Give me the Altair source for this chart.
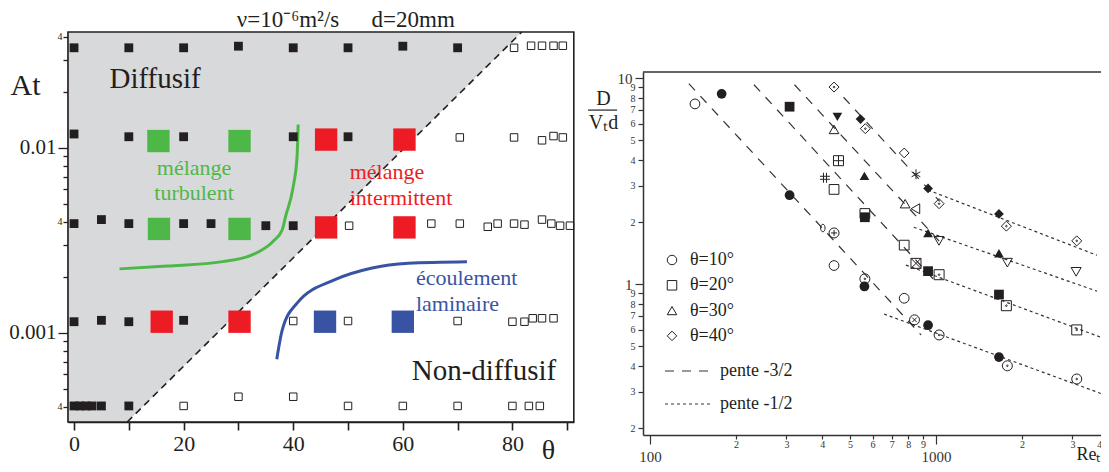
import altair as alt
import pandas as pd

SERIF = "Liberation Serif"
INK = "#231f20"

# ---------------- left panel : regime diagram ----------------
theta_domain = [-1.1, 91.2]
at_domain = [0.00033, 0.04236]
theta_ticks = [0, 10, 20, 30, 40, 50, 60, 70, 80, 90]
at_ticks = [0.0004, 0.0005, 0.0006, 0.0007, 0.0008, 0.0009,
            0.001, 0.002, 0.003, 0.004, 0.005, 0.006, 0.007, 0.008, 0.009,
            0.01, 0.02, 0.03, 0.04]

# diffusive runs (small black squares)
diff_theta = [0, 10, 20, 30, 40, 50, 60, 70,
              0, 10, 20, 40, 50,
              0, 5, 10, 20, 25, 35, 40,
              0, 5, 10, 20,
              0, 1.1, 2.2, 3.3, 5.0, 10]
diff_at = [0.0348, 0.0348, 0.0348, 0.0355, 0.0348, 0.0348, 0.0355, 0.0348,
           0.0119, 0.0115, 0.0115, 0.0115, 0.0115,
           0.0039, 0.0041, 0.0039, 0.0039, 0.0039, 0.0038, 0.0038,
           0.00115, 0.00117, 0.00115, 0.00117,
           0.000403, 0.000403, 0.000403, 0.000403, 0.000403, 0.000403]

# non-diffusive runs (small open squares)
nd_theta = [80.3, 83.4, 85.4, 87.5, 89.2,
            70.4, 80.3, 85.4, 87.5, 89.2,
            50.2, 65.2, 70.4, 75.5, 77.3, 80.3, 82.2, 85.4, 87.1, 88.7, 90.5,
            40, 50, 70, 80, 82.2, 83.7, 85.4, 87.5,
            20, 30, 40, 50, 60, 70, 80, 83, 85]
nd_at = [0.0348, 0.0357, 0.0357, 0.0357, 0.0357,
         0.0114, 0.0114, 0.0110, 0.0116, 0.0114,
         0.0038, 0.0039, 0.0039, 0.00375, 0.0039, 0.0039, 0.00385, 0.0041, 0.0039, 0.0038, 0.0038,
         0.00116, 0.00116, 0.00116, 0.00115, 0.00115, 0.0012, 0.0012, 0.0012,
         0.000403, 0.000452, 0.000452, 0.000403, 0.000403, 0.000403, 0.000403, 0.000403, 0.000403]

# highlighted runs (large coloured squares)
green_theta = [15.4, 30.2, 15.5, 30.2]
green_at = [0.0109, 0.0109, 0.00365, 0.00365]
red_theta = [46, 60.3, 46, 60.3, 16, 30.2]
red_at = [0.0111, 0.0111, 0.00372, 0.00372, 0.00115, 0.00115]
blue_theta = [45.8, 60]
blue_at = [0.00115, 0.00115]

# diffusive region and its boundary
region_theta = [-1.1, 9.7, 81.7]
region_low = [0.00033, 0.00033, 0.04236]
region_high = [0.04236, 0.04236, 0.04236]
bound_theta = [9.7, 81.7]
bound_at = [0.00033, 0.04236]

# regime curves
gcurve_theta = [8.3, 17, 27.1, 32.5, 36.3, 38, 38.6, 40, 40.7, 40.9]
gcurve_at = [0.00222, 0.0023, 0.00243, 0.00264, 0.00312, 0.00361, 0.00426, 0.00618, 0.00897, 0.0134]
bcurve_theta = [37, 38, 40.7, 47.5, 54.2, 61, 71.7]
bcurve_at = [0.000721, 0.001038, 0.001449, 0.001936, 0.002239, 0.002382, 0.002427]

# annotations (placed in data coordinates)
big_text = ["Diffusif", "Non-diffusif"]
big_theta = [14.8, 74.8]
big_at = [0.0236, 0.000623]
green_text = ["mélange", "turbulent"]
green_text_theta = [21.9, 21.9]
green_text_at = [0.0078, 0.00571]
red_text = ["mélange", "intermittent"]
red_text_theta = [50.3, 50.3]
red_text_at = [0.00742, 0.00537]
blue_text = ["écoulement", "laminaire"]
blue_text_theta = [62.4, 62.4]
blue_text_at = [0.00198, 0.001436]
head_text = ["ν=10⁻⁶m²/s", "d=20mm"]
head_theta = [39.05, 61.9]
head_at = [0.0489, 0.0489]

# ---------------- right panel : D/(Vt d) vs Re_t ----------------
re_domain = [94.5, 4026]
d_domain = [0.185, 10.7]
re_ticks = [100, 200, 300, 400, 500, 600, 700, 800, 900, 1000, 2000, 3000, 4000]
d_ticks = [0.2, 0.3, 0.4, 0.5, 0.6, 0.7, 0.8, 0.9, 1, 2, 3, 4, 5, 6, 7, 8, 9, 10]

open_re = [143.6, 440, 774, 440, 774, 564, 440, 780, 774]
open_d = [7.49, 1.23, 0.853, 2.88, 1.545, 2.2, 5.63, 2.455, 4.33]
open_theta = ["θ=10°", "θ=10°", "θ=10°", "θ=20°", "θ=20°", "θ=20°", "θ=30°", "θ=30°", "θ=40°"]

fill_re = [178, 307.6, 562, 938, 1660, 307.6, 564, 938, 1660, 562, 938, 1660, 452, 544.5, 938, 1660]
fill_d = [8.38, 2.70, 0.973, 0.631, 0.442, 7.26, 2.11, 1.155, 0.889, 3.35, 1.77, 1.41, 6.48, 6.32, 2.91, 2.19]
fill_kind = ["circle"] * 5 + ["square"] * 4 + ["triangle-up"] * 3 + ["triangle-down"] + ["diamond"] * 3

spec_re = [564, 1025, 1776, 3105, 440, 841, 402,
           1025, 1762, 3105, 456, 851, 409,
           847, 1024, 1776, 3090,
           440, 566, 1025, 1762, 3105, 851]
spec_d = [1.06, 0.566, 0.401, 0.346, 1.77, 0.67, 1.87,
          1.11, 0.785, 0.599, 3.97, 1.26, 3.28,
          2.32, 1.62, 1.27, 1.146,
          9.04, 5.68, 2.455, 1.91, 1.62, 3.41]
spec_kind = ["circle-dot"] * 4 + ["circle-plus", "circle-x", "small-ellipse"] + \
            ["square-dot"] * 3 + ["square-plus", "square-x", "hash"] + \
            ["triangle-left"] + ["triangle-down"] * 3 + \
            ["diamond-dot"] * 5 + ["asterisk"]

steep_id = ["s1", "s1", "s2", "s2", "s3", "s3", "s4", "s4"]
steep_re = [136.7, 887, 231, 1016, 320, 1060, 475, 1030]
steep_d = [9.39, 0.566, 9.28, 1.0, 9.28, 1.54, 8.07, 2.52]
flat_id = ["f1", "f1", "f2", "f2", "f3", "f3", "f4", "f4"]
flat_re = [658, 3855, 785, 3754, 836, 3652, 938, 3652]
flat_d = [0.715, 0.291, 1.236, 0.553, 1.887, 0.924, 2.86, 1.38]
slope_labels = ["pente -3/2", "pente -1/2"]

frac_re = [60.7, 76.7]
frac_d = [6.99]

# ---------------- symbol paths (style) ----------------
CIRC = "M1,0A1,1,0,1,1,-1,0A1,1,0,1,1,1,0Z"
DOT = "M0.16,0A0.16,0.16,0,1,1,-0.16,0A0.16,0.16,0,1,1,0.16,0Z"
SQ = "M-1,-1H1V1H-1Z"
DIA = "M0,-1L1,0L0,1L-1,0Z"
PATHS = {
    "circle-dot": CIRC + DOT,
    "circle-plus": CIRC + "M0,-0.6V0.6M-0.6,0H0.6",
    "circle-x": CIRC + "M-0.45,-0.45L0.45,0.45M0.45,-0.45L-0.45,0.45",
    "small-ellipse": "M0.45,0A0.45,0.75,0,1,1,-0.45,0A0.45,0.75,0,1,1,0.45,0Z",
    "square-dot": SQ + DOT,
    "square-plus": SQ + "M0,-1V1M-1,0H1",
    "square-x": SQ + "M-1,-1L1,1M1,-1L-1,1",
    "hash": "M-0.3,-1V1M0.3,-1V1M-1,-0.3H1M-1,0.3H1",
    "triangle-left": "triangle-left",
    "triangle-down": "triangle-down",
    "diamond-dot": DIA + DOT,
    "asterisk": "M0,-1V1M-0.87,-0.5L0.87,0.5M-0.87,0.5L0.87,-0.5",
}

# ---------------- geometry ----------------
W, H = 1093, 456
LX = alt.Scale(type="linear", domain=theta_domain, range=[60, 565.8], nice=False, zero=False)
LY = alt.Scale(type="log", domain=at_domain, range=[414, 24], nice=False)
RX = alt.Scale(type="log", domain=re_domain, range=[635, 1101], nice=False)
RY = alt.Scale(type="log", domain=d_domain, range=[427, 64], nice=False)

MAJ = "abs(log(datum.value)/LN10 - round(log(datum.value)/LN10)) < 0.001"
MANT = "datum.value / pow(10, floor(log(datum.value)/LN10 + 0.001))"


def cond(major, minor):
    return {"condition": {"test": MAJ, "value": major}, "value": minor}


left_x_axis = alt.Axis(
    orient="bottom", offset=414 - H, values=theta_ticks, format="d",
    labelExpr="datum.value % 20 == 0 ? datum.label : ''",
    grid=False, domainColor=INK, domainWidth=1.6, tickColor=INK, tickWidth=1.6,
    tickSize=8, labelFont=SERIF, labelFontSize=22, labelColor=INK, labelPadding=3,
    labelFlush=False, labelOverlap=False,
    title="θ", titleFont=SERIF, titleFontSize=28, titleFontWeight="normal", titleColor=INK,
    titleX=540, titleY=28, titleAngle=0, titleAlign="center", titleBaseline="middle",
)
left_y_axis = alt.Axis(
    orient="left", offset=-60, values=at_ticks,
    labelExpr=f"{MAJ} ? format(datum.value, '~g') : (abs({MANT} - 4) < 0.01 ? '4' : '')",
    grid=False, domainColor=INK, domainWidth=1.6, tickColor=INK, tickWidth=1.3,
    tickSize=cond(10, 5), labelFontSize=cond(21, 10), labelPadding=cond(2, 1),
    labelFont=SERIF, labelColor=INK, labelOverlap=False, labelFlush=False,
    labelBaseline="middle",
    title="At", titleFont=SERIF, titleFontSize=30, titleFontWeight="normal", titleColor=INK,
    titleX=-43, titleY=77, titleAngle=0, titleAlign="center", titleBaseline="middle",
)
right_x_axis = alt.Axis(
    orient="bottom", offset=427 - H, values=re_ticks,
    labelExpr=f"{MAJ} ? format(datum.value, '~g') : format(round({MANT}), 'd')",
    grid=False, domainColor="#333333", domainWidth=1.5, tickColor="#333333", tickWidth=1.2,
    tickSize=cond(9, 4), labelFontSize=cond(15, 10), labelPadding=cond(5, 0),
    labelOffset={"condition": {"test": "datum.value > 3500", "value": -9}, "value": 0},
    labelFont=SERIF, labelColor="#333333", labelOverlap=False, labelFlush=False,
    title="Reₜ", titleFont=SERIF, titleFontSize=18, titleFontWeight="normal", titleColor=INK,
    titleX=1068, titleY=19, titleAngle=0, titleAlign="left", titleBaseline="middle",
)
right_y_axis = alt.Axis(
    orient="left", offset=-635, values=d_ticks,
    labelExpr=f"{MAJ} ? format(datum.value, '~g') : format(round({MANT}), 'd')",
    grid=False, domainColor="#333333", domainWidth=1.5, tickColor="#333333", tickWidth=1.2,
    tickSize=cond(8, 5), labelFontSize=cond(15, 10), labelPadding=cond(3, 3),
    labelFont=SERIF, labelColor="#333333", labelOverlap=False, labelFlush=False,
    labelBaseline="middle",
    title=["D", "Vₜd"], titleFont=SERIF, titleFontSize=20, titleFontWeight="normal",
    titleColor=INK, titleLineHeight=24,
    titleX=-40, titleY=90, titleAngle=0, titleAlign="center", titleBaseline="middle",
)


def lx(f, axis=None):
    return alt.X(f + ":Q", scale=LX, axis=axis)


def ly(f, axis=None):
    return alt.Y(f + ":Q", scale=LY, axis=axis)


def rx(f, axis=None):
    return alt.X(f + ":Q", scale=RX, axis=axis)


def ry(f, axis=None):
    return alt.Y(f + ":Q", scale=RY, axis=axis)


# ---------------- left layers ----------------
region = alt.Chart(pd.DataFrame({"t": region_theta, "lo": region_low, "hi": region_high})).mark_area(
    color="#d8d9db", opacity=1).encode(x=lx("t"), y=ly("lo"), y2="hi:Q")

boundary = alt.Chart(pd.DataFrame({"t": bound_theta, "a": bound_at})).mark_line(
    color=INK, strokeWidth=1.6, strokeDash=[7, 5]).encode(x=lx("t"), y=ly("a"))

frame = alt.Chart(pd.DataFrame({"t0": [theta_domain[0]], "t1": [theta_domain[1]],
                                "a0": [at_domain[0]], "a1": [at_domain[1]]})).mark_rect(
    fillOpacity=0, stroke=INK, strokeWidth=1.6).encode(
    x=lx("t0", left_x_axis), x2="t1:Q", y=ly("a0", left_y_axis), y2="a1:Q")

gcurve = alt.Chart(pd.DataFrame({"t": gcurve_theta, "a": gcurve_at})).mark_line(
    color="#4db848", strokeWidth=3, interpolate="monotone").encode(x=lx("t"), y=ly("a"))
bcurve = alt.Chart(pd.DataFrame({"t": bcurve_theta, "a": bcurve_at})).mark_line(
    color="#3953a4", strokeWidth=3, interpolate="monotone").encode(x=lx("t"), y=ly("a"))

diff_pts = alt.Chart(pd.DataFrame({"t": diff_theta, "a": diff_at})).mark_square(
    size=78, color=INK, opacity=1).encode(x=lx("t"), y=ly("a"))
nd_pts = alt.Chart(pd.DataFrame({"t": nd_theta, "a": nd_at})).mark_square(
    size=56, filled=False, stroke=INK, strokeWidth=1, opacity=1).encode(x=lx("t"), y=ly("a"))


def big_squares(th, at, colour):
    return alt.Chart(pd.DataFrame({"t": th, "a": at})).mark_square(
        size=500, color=colour, opacity=1).encode(x=lx("t"), y=ly("a"))


def labels(txt, th, at, colour, size, align="center"):
    return alt.Chart(pd.DataFrame({"txt": txt, "t": th, "a": at})).mark_text(
        font=SERIF, fontSize=size, color=colour, align=align, baseline="middle").encode(
        x=lx("t"), y=ly("a"), text="txt:N")


left_layers = [
    region, boundary, frame, gcurve, bcurve, diff_pts, nd_pts,
    big_squares(green_theta, green_at, "#4db848"),
    big_squares(red_theta, red_at, "#ed1c24"),
    big_squares(blue_theta, blue_at, "#3953a4"),
    labels(big_text, big_theta, big_at, INK, 29),
    labels(green_text, green_text_theta, green_text_at, "#4db848", 22),
    labels(red_text, red_text_theta, red_text_at, "#ed1c24", 22, "left"),
    labels(blue_text, blue_text_theta, blue_text_at, "#3953a4", 22, "left"),
    labels(head_text, head_theta, head_at, INK, 23),
]

# ---------------- right layers ----------------
top_rule = alt.Chart(pd.DataFrame({"r0": [re_domain[0]], "r1": [re_domain[1]], "d": [d_domain[1]]})).mark_rule(
    color="#333333", strokeWidth=1.5).encode(x=rx("r0", right_x_axis), x2="r1:Q", y=ry("d", right_y_axis))

lines_df = pd.DataFrame({
    "id": steep_id + flat_id,
    "re": steep_re + flat_re,
    "d": steep_d + flat_d,
    "pente": [slope_labels[0]] * len(steep_id) + [slope_labels[1]] * len(flat_id),
})
slopes = alt.Chart(lines_df).mark_line(color="#333333", strokeWidth=1.2).encode(
    x=rx("re"), y=ry("d"), detail="id:N",
    strokeDash=alt.StrokeDash("pente:N", scale=alt.Scale(domain=slope_labels, range=[[9, 8], [3, 3]]),
                              legend=alt.Legend(orient="none", legendX=656, legendY=354, title=None,
                                                padding=0, symbolType="stroke", symbolSize=2209,
                                                symbolStrokeWidth=1.2, symbolStrokeColor="#333333",
                                                clipHeight=18, rowPadding=15, labelOffset=7,
                                                labelFont=SERIF, labelFontSize=18, labelColor=INK)))

open_pts = alt.Chart(pd.DataFrame({"re": open_re, "d": open_d, "theta": open_theta})).mark_point(
    filled=False, size=95, stroke=INK, strokeWidth=1, opacity=1).encode(
    x=rx("re"), y=ry("d"),
    shape=alt.Shape("theta:N", scale=alt.Scale(domain=["θ=10°", "θ=20°", "θ=30°", "θ=40°"],
                                               range=["circle", "square", "triangle-up", "diamond"]),
                    legend=alt.Legend(orient="none", legendX=655, legendY=243, title=None, padding=0,
                                      symbolSize=90, symbolStrokeWidth=1, symbolStrokeColor=INK,
                                      clipHeight=18, rowPadding=7.3, labelOffset=9,
                                      labelFont=SERIF, labelFontSize=18, labelColor=INK)))

fill_pts = alt.Chart(pd.DataFrame({"re": fill_re, "d": fill_d, "k": fill_kind})).mark_point(
    filled=True, size=95, color=INK, opacity=1).encode(
    x=rx("re"), y=ry("d"), shape=alt.Shape("k:N", scale=None))

spec_pts = alt.Chart(pd.DataFrame({"re": spec_re, "d": spec_d,
                                   "k": [PATHS[k] for k in spec_kind]})).mark_point(
    filled=False, size=100, stroke=INK, strokeWidth=1, opacity=1).encode(
    x=rx("re"), y=ry("d"), shape=alt.Shape("k:N", scale=None))

frac = alt.Chart(pd.DataFrame({"r0": [frac_re[0]], "r1": [frac_re[1]], "d": frac_d})).mark_rule(
    color=INK, strokeWidth=1.2).encode(x=rx("r0"), x2="r1:Q", y=ry("d"))

right_layers = [top_rule, slopes, open_pts, fill_pts, spec_pts, frac]

chart = alt.layer(*left_layers, *right_layers).resolve_scale(
    x="independent", y="independent"
).properties(
    width=W, height=H, padding=0, autosize=alt.AutoSizeParams(type="none")
).configure(font=SERIF).configure_view(strokeWidth=0)

chart.save("out.html", embed_options={"renderer": "svg", "actions": False})
